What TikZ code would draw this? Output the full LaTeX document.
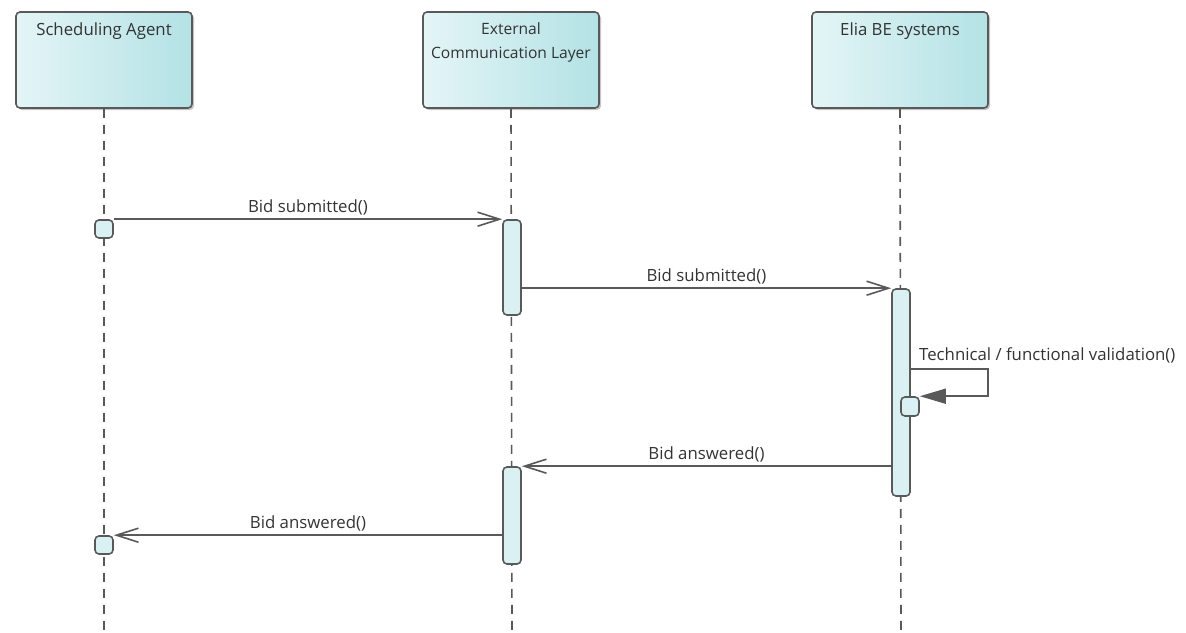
\documentclass[tikz,border=0pt]{standalone}
\usepackage{fontspec}
\setmainfont{Open Sans}
\usetikzlibrary{arrows.meta,shadows}
\definecolor{linegray}{HTML}{595959}
\definecolor{boxlight}{HTML}{E4F5F6}
\definecolor{boxdark}{HTML}{B3E2E5}
\definecolor{barfill}{HTML}{DAF1F3}
\definecolor{textgray}{HTML}{333333}

\begin{document}
\begin{tikzpicture}[x=1pt,y=-1pt,>={Straight Barb[length=22pt,width=14pt]},
                    semithick,font=\fontsize{16.8}{21}\selectfont,text=textgray]
  \tikzstyle{actor}=[draw=linegray,line width=1.6pt,rounded corners=4pt,
                     left color=boxlight,right color=boxdark,
                     minimum width=176pt,minimum height=96pt,
                     drop shadow={shadow xshift=2pt,shadow yshift=-2pt,fill=black!45}]
  \tikzstyle{bar}=[draw=linegray,line width=1.6pt,fill=barfill,rounded corners=4pt,
                   minimum width=18pt,inner sep=0pt]
  \tikzstyle{lifeline}=[draw=linegray,line width=1.6pt,dash pattern=on 9pt off 7pt]
  \tikzstyle{msg}=[->,draw=linegray,line width=1.6pt]
  \tikzstyle{call}=[-{Triangle[length=26pt,width=15pt,fill=linegray]},draw=linegray,line width=1.6pt]
  \tikzstyle{title}=[anchor=north,align=center,yshift=-8pt,font=\fontsize{16.8}{24}\selectfont]

  \useasboundingbox (0,0) rectangle (1186,632);

  \node[actor,label={[title]north:Scheduling Agent}] (SA)  at (104,60) {};
  \node[actor,label={[title,font=\fontsize{15.6}{24}\selectfont]north:External\\Communication Layer}] (ECL) at (511,60) {};
  \node[actor,label={[title]north:Elia BE systems}] (BE)  at (900,60) {};

  \coordinate (SAend)  at (104,632);
  \coordinate (ECLend) at (512,632);
  \coordinate (BEend)  at (901,632);
  \draw[lifeline] (SA.south)  -- (SAend);
  \draw[lifeline] (ECL.south) -- (ECLend);
  \draw[lifeline] (BE.south)  -- (BEend);

  \node[bar,minimum height=18pt]  (a1) at (104,229)   {};
  \node[bar,minimum height=95pt]  (b1) at (512,267.5) {};
  \node[bar,minimum height=207pt] (c1) at (901,392.5) {};
  \node[bar,minimum height=19pt]  (c2) at (910,406.5) {};
  \node[bar,minimum height=97pt]  (b2) at (512,515.5) {};
  \node[bar,minimum height=18pt]  (a2) at (104,545)   {};

  \coordinate (self) at (910,369);

  \path (a1.north east)        edge[msg] node[above] {Bid submitted()} (b1.north west)
        (b1.east |- c1.north)  edge[msg] node[above] {Bid submitted()} (c1.north west)
        (c1.west |- b2.north)  edge[msg] node[above] {Bid answered()}  (b2.north east)
        (b2.west |- a2.north)  edge[msg] node[above] {Bid answered()}  (a2.north east);
  \draw[call] (self) node[anchor=base west,xshift=5pt,yshift=9pt] {Technical / functional validation()}
              -- ++(78,0) |- (c2.north east);
\end{tikzpicture}
\end{document}
